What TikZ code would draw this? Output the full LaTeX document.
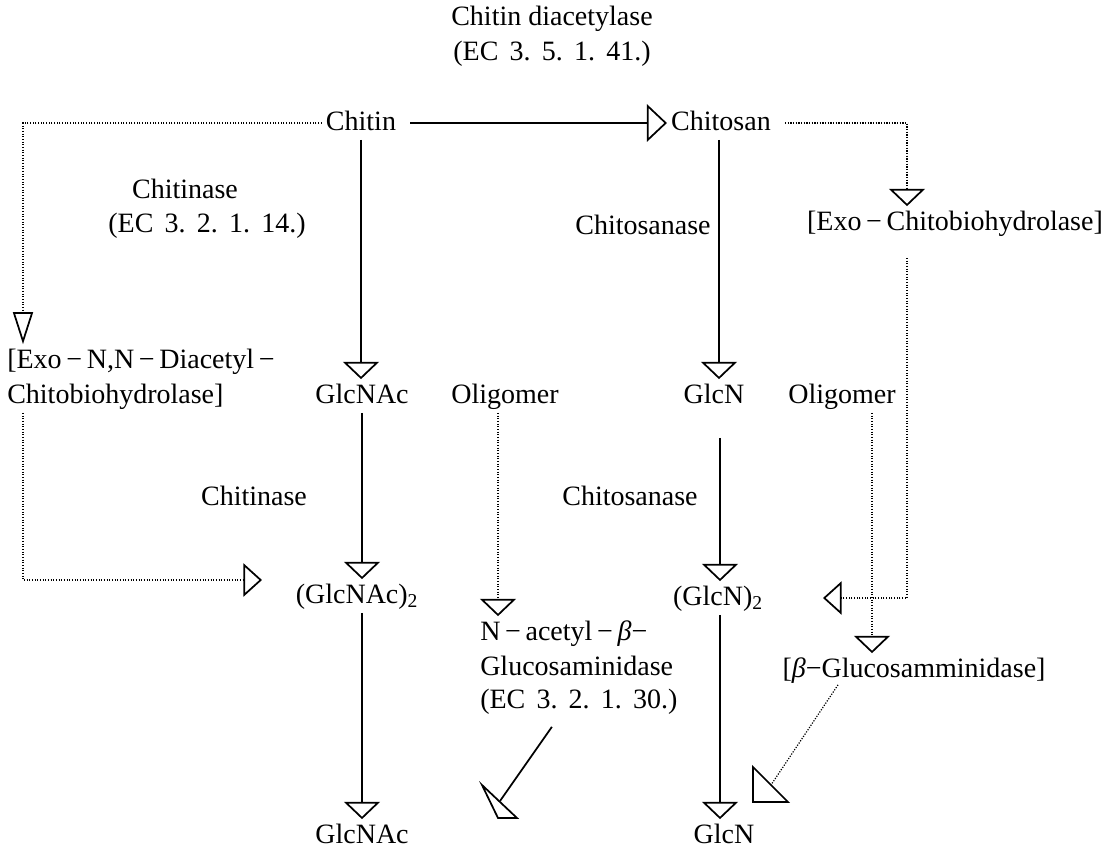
\documentclass[tikz,border=0pt]{standalone}
\usepackage{fontspec}
\setmainfont{Liberation Serif}
\usetikzlibrary{arrows.meta}
\newcommand{\ecs}{\hspace{0.4em}}
\tikzset{
  lbl/.style={font=\fontsize{21}{25}\selectfont, text height=14.7pt, text depth=4.2pt, inner sep=3pt},
  opentri/.tip={Triangle[open, length=13pt, width=27pt, line width=1.3pt]},
  opentriH/.tip={Triangle[open, length=15pt, width=28pt, line width=1.3pt]},
  opentriN/.tip={Triangle[open, length=24pt, width=15pt, line width=1.3pt]},
  opentriS/.tip={Triangle[open, length=14pt, width=25pt, line width=1.3pt]},
  sline/.style={line width=1.3pt},
  dline/.style={line width=0.9pt, dash pattern=on 0.9pt off 1.1pt},
  headline/.style={line width=1.3pt, line join=miter},
}
\begin{document}
\begin{tikzpicture}[x=0.75pt,y=-0.75pt]
\useasboundingbox (0,0) rectangle (1108,847);
\fill[white] (0,0) rectangle (1108,847);

% ---- nodes
\node[lbl] (t1) at (552,18) {Chitin diacetylase};
\node[lbl] (t2) at (552,53) {(EC\ecs 3.\ecs 5.\ecs 1.\ecs 41.)};
\node[lbl] (chitin) at (361,123) {Chitin};
\node[lbl] (chitosan) at (721,123) {Chitosan};
\node[lbl] (chiase1) at (185,191) {Chitinase};
\node[lbl] (ec1) at (207,225) {(EC\ecs 3.\ecs 2.\ecs 1.\ecs 14.)};
\node[lbl] (chsase1) at (643,227) {Chitosanase};
\node[lbl] (eco) at (955,223) {[Exo\,−\,Chitobiohydrolase]};
\node[lbl,anchor=west] (exo1) at (3,361) {[Exo\,−\,N,N\,−\,Diacetyl\,−};
\node[lbl,anchor=west] (exo2) at (3,396) {Chitobiohydrolase]};
\node[lbl] (glcnac1) at (362,396) {GlcNAc};
\node[lbl] (olig1) at (505,396) {Oligomer};
\node[lbl] (glcn1) at (714,396) {GlcN};
\node[lbl] (olig2) at (842,396) {Oligomer};
\node[lbl] (chiase2) at (254,498) {Chitinase};
\node[lbl] (chsase2) at (630,498) {Chitosanase};
\node[lbl] (glcnac2) at (357,596) {(GlcNAc)\textsubscript{2}};
\node[lbl] (glcn2) at (718,598) {(GlcN)\textsubscript{2}};
\node[lbl,anchor=west] (nag1) at (476,633) {N\,−\,acetyl\,−\,\textit{β}−};
\node[lbl,anchor=west] (nag2) at (476,668) {Glucosaminidase};
\node[lbl,anchor=west] (nag3) at (476,701) {(EC\ecs 3.\ecs 2.\ecs 1.\ecs 30.)};
\node[lbl] (bgl) at (914,670) {[\textit{β}−Glucosamminidase]};
\node[lbl] (glcnac3) at (362,836) {GlcNAc};
\node[lbl] (glcn3) at (724,836) {GlcN};

% ---- helper coordinates
\coordinate (chE) at ([shift={(10,0)}]chitin.east);
\coordinate (csE) at ([shift={(10,0)}]chitosan.east);
\coordinate (g1s) at ([shift={(6,25)}]glcn1.south);
\coordinate (g2s) at ([shift={(2,0)}]glcn2.south);
\coordinate (exoS) at ([shift={(20,0)}]exo2.south west);
\coordinate (exoN) at ([shift={(20,0)}]exo1.north west);
\coordinate (ecoN) at ([shift={(-48,0)}]eco.north);
\coordinate (ecoS) at ([shift={(-48,18)}]eco.south);
\coordinate (o1s) at ([shift={(-7,0)}]olig1.south);
\coordinate (o2s) at ([shift={(30,0)}]olig2.south);
\coordinate (tipB) at (262,580);
\coordinate (tipC) at (823,598);
\coordinate (nagS) at ([shift={(-27,9)}]nag3.south);
\coordinate (tipA) at (500,801);
\coordinate (bglS) at ([shift={(-76,-2)}]bgl.south);
\coordinate (tipD) at (771,785);

% ---- solid connectors
\draw[sline,-opentriH] (chE) -- (chitosan.west);
\draw[sline,-opentri] (chitin.south) -- (chitin.south |- glcnac1.north);
\draw[sline,-opentri] (glcnac1.south) -- (glcnac1.south |- glcnac2.north);
\draw[sline,-opentri] (glcnac1.south |- glcnac2.south) -- (glcnac1.south |- glcnac3.north);
\draw[sline,-opentri] ([shift={(-2,0)}]chitosan.south) -- ([shift={(-2,0)}]chitosan.south |- glcn1.north);
\draw[sline,-opentri] (g1s) -- (g1s |- glcn2.north);
\draw[sline,-opentri] (g2s) -- (g2s |- glcn3.north);
\draw[sline] (nagS) -- (tipA);
\draw[headline] (482,785) -- (517,818) -- (498,818) -- cycle;

% ---- dotted connectors
\draw[dline,-opentriN] (chitin.west) -| (exoN);
\draw[dline,-opentriS] (exoS) |- (tipB);
\draw[dline,-opentri] (csE) -| (ecoN);
\draw[dline,-opentriS] (ecoS) |- (tipC);
\draw[dline,-opentri] (o1s) -- (o1s |- nag1.north);
\draw[dline,-opentri] (o2s) -- (o2s |- bgl.north);
\draw[dline] (bglS) -- (tipD);
\draw[headline] (753,767) -- (753,802) -- (788,802) -- cycle;
\end{tikzpicture}
\end{document}
